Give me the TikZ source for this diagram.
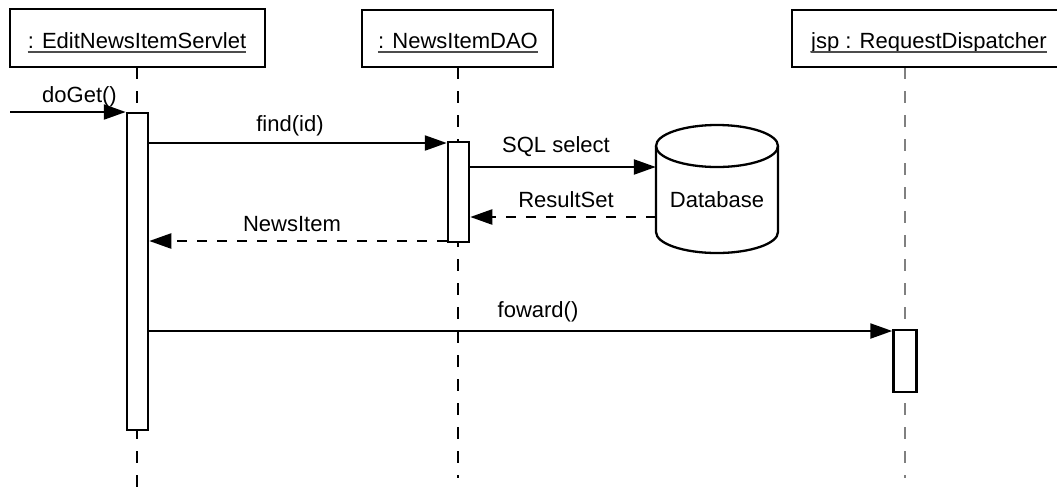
\documentclass[tikz,border=0pt]{standalone}
\usepackage{fontspec}
\setmainfont{Liberation Sans}
\usetikzlibrary{arrows.meta}
\begin{document}
\begin{tikzpicture}[x=1pt,y=-1pt,
  objbox/.style={draw,line width=2.8pt,fill=white},
  objtext/.style={inner sep=0pt,anchor=base,font=\fontsize{22}{25}\selectfont},
  uline/.style={black!70,line width=1.2pt},
  lifeline/.style={line width=1.6pt,dash pattern=on 12pt off 12pt},
  actbox/.style={draw,line width=2.5pt,fill=white,inner sep=0pt},
  msg/.style={line width=2.3pt,-{Triangle[length=22pt,width=15pt]}},
  reply/.style={msg,dash pattern=on 10pt off 10pt},
  lbl/.style={inner sep=0pt,font=\fontsize{22}{25}\selectfont}]
\useasboundingbox (0,0) rectangle (1057,491);
\clip (0,0) rectangle (1057,491);

% lifeline anchors
\coordinate (l1top) at (137,67);
\coordinate (l1bot) at (137,495);
\coordinate (l2top) at (458,67);
\coordinate (l2bot) at (458,478);
\coordinate (l3top) at (905,67);
\coordinate (l3bot) at (905,478);

% lifelines
\draw[lifeline] (l1top) -- (l1bot);
\draw[lifeline] (l2top) -- (l2bot);
\draw[lifeline,gray] (l3top) -- (l3bot);

% object boxes
\draw[objbox] (10,9) rectangle (265,67);
\draw[objbox] (362,10) rectangle (553,67);
\draw[objbox] (792,10) rectangle (1075,67);

\node[objtext] (t1) at (137,48) {: EditNewsItemServlet};
\node[objtext] (t2) at (458,48) {: NewsItemDAO};
\node[objtext] (t3) at (929,48) {jsp : RequestDispatcher};
\draw[uline] ([yshift=-4pt]t1.base west) -- ([yshift=-4pt]t1.base east);
\draw[uline] ([yshift=-4pt]t2.base west) -- ([yshift=-4pt]t2.base east);
\draw[uline] ([yshift=-4pt]t3.base west) -- ([yshift=-4pt]t3.base east);

% activation boxes
\node[actbox,minimum width=21pt,minimum height=317pt] (a1) at (137.5,271.5) {};
\node[actbox,minimum width=21pt,minimum height=100pt] (a2) at (458.5,192) {};
\node[actbox,minimum width=23pt,minimum height=62pt] (a3) at (905,361) {};

% database
\node[inner sep=0pt,minimum width=122pt,minimum height=128pt] (db) at (717,189) {};
\coordinate (dbtop) at (717,146);
\fill[white] (656,146) -- (656,232) arc[start angle=180,end angle=360,x radius=61pt,y radius=21pt] -- (778,146) -- cycle;
\draw[line width=2.3pt] (dbtop) ellipse [x radius=61pt,y radius=21pt];
\draw[line width=2.3pt] (656,146) -- (656,232) arc[start angle=180,end angle=360,x radius=61pt,y radius=21pt] -- (778,146);
\node[lbl] (dbl) at (717,200) {Database};

% message rows
\coordinate (in) at (10,112);
\coordinate (m1) at (0,143);
\coordinate (m2) at (0,167);
\coordinate (m3) at (0,217);
\coordinate (m4) at (0,241);
\coordinate (m5) at (0,331);

\draw[msg] (in) -- (in -| a1.west);
\draw[msg] (a1.east |- m1) -- (a2.west |- m1);
\draw[msg] (a2.east |- m2) -- (db.west |- m2);
\draw[reply] (db.west |- m3) -- (a2.east |- m3);
\draw[reply] (a2.west |- m4) -- (a1.east |- m4);
\draw[msg] (a1.east |- m5) -- (a3.west |- m5);

% labels
\node[lbl] (ldoget) at (79.5,96.5) {doGet()};
\node[lbl] (lfind) at (290,126) {find(id)};
\node[lbl] (lsql) at (556,146.5) {SQL select};
\node[lbl] (lres) at (566,200) {ResultSet};
\node[lbl] (lnews) at (292,224) {NewsItem};
\node[lbl] (lfwd) at (538,312) {foward()};
\end{tikzpicture}
\end{document}
